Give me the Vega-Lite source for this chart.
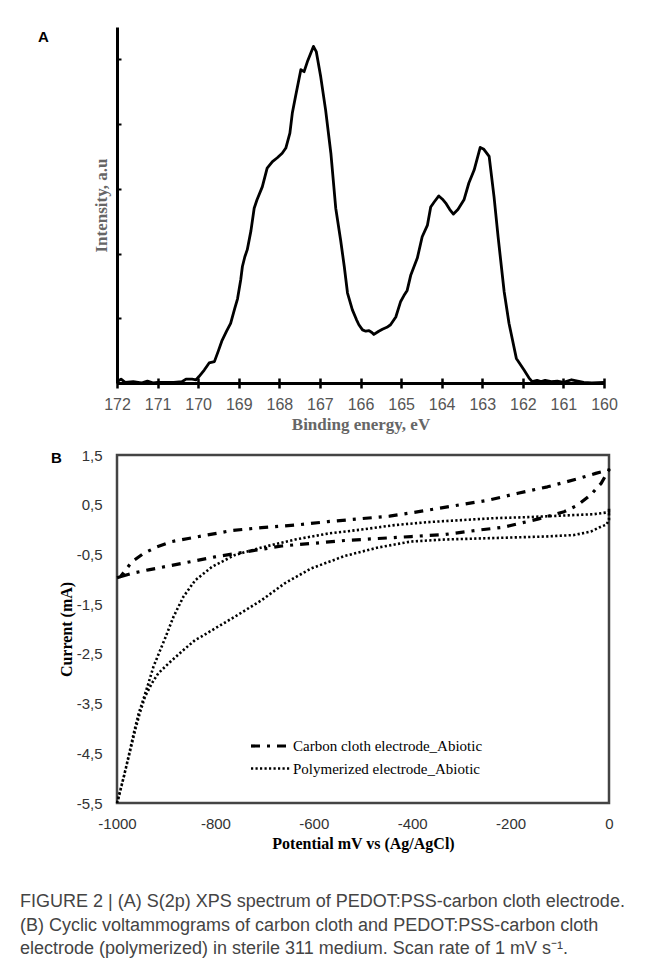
{
  "$schema": "https://vega.github.io/schema/vega-lite/v6.json",
  "background": "white",
  "padding": {"left": 20, "top": 27, "right": 0, "bottom": 5},
  "bounds": "flush",
  "spacing": 72,
  "title": {
    "text": [
      "FIGURE 2 | (A) S(2p) XPS spectrum of PEDOT:PSS-carbon cloth electrode.",
      "(B) Cyclic voltammograms of carbon cloth and PEDOT:PSS-carbon cloth",
      "electrode (polymerized) in sterile 311 medium. Scan rate of 1 mV s⁻¹."
    ],
    "orient": "bottom",
    "anchor": "start",
    "frame": "bounds",
    "dx": -18,
    "font": "Liberation Sans",
    "fontSize": 18,
    "fontWeight": "normal",
    "color": "#444444",
    "lineHeight": 23.5,
    "offset": 41
  },
  "datasets": {
    "xps": [
      {"e": 172.0, "v": 0.02}, {"e": 171.9, "v": 0.06}, {"e": 171.8, "v": 0.01}, {"e": 171.6, "v": 0.02},
      {"e": 171.4, "v": 0.0}, {"e": 171.25, "v": 0.03}, {"e": 171.1, "v": 0.0}, {"e": 171.0, "v": 0.01},
      {"e": 170.8, "v": 0.01}, {"e": 170.6, "v": 0.01}, {"e": 170.4, "v": 0.02}, {"e": 170.3, "v": 0.06},
      {"e": 170.15, "v": 0.06}, {"e": 170.05, "v": 0.05}, {"e": 169.98, "v": 0.1}, {"e": 169.85, "v": 0.2},
      {"e": 169.73, "v": 0.31}, {"e": 169.6, "v": 0.33}, {"e": 169.5, "v": 0.5}, {"e": 169.41, "v": 0.66},
      {"e": 169.3, "v": 0.8}, {"e": 169.2, "v": 0.92}, {"e": 169.1, "v": 1.15}, {"e": 169.03, "v": 1.3},
      {"e": 168.95, "v": 1.6}, {"e": 168.91, "v": 1.8}, {"e": 168.85, "v": 1.95}, {"e": 168.79, "v": 2.06},
      {"e": 168.7, "v": 2.35}, {"e": 168.62, "v": 2.7}, {"e": 168.55, "v": 2.83}, {"e": 168.42, "v": 3.03},
      {"e": 168.3, "v": 3.32}, {"e": 168.17, "v": 3.42}, {"e": 168.05, "v": 3.48}, {"e": 167.93, "v": 3.55},
      {"e": 167.84, "v": 3.63}, {"e": 167.74, "v": 3.86}, {"e": 167.68, "v": 4.17}, {"e": 167.6, "v": 4.43},
      {"e": 167.47, "v": 4.84}, {"e": 167.39, "v": 4.81}, {"e": 167.3, "v": 4.98}, {"e": 167.16, "v": 5.2},
      {"e": 167.09, "v": 5.12}, {"e": 166.98, "v": 4.73}, {"e": 166.86, "v": 4.22}, {"e": 166.73, "v": 3.55},
      {"e": 166.61, "v": 2.7}, {"e": 166.49, "v": 2.21}, {"e": 166.4, "v": 1.8}, {"e": 166.32, "v": 1.39},
      {"e": 166.2, "v": 1.13}, {"e": 166.1, "v": 0.98}, {"e": 166.04, "v": 0.9}, {"e": 165.95, "v": 0.82},
      {"e": 165.87, "v": 0.8}, {"e": 165.79, "v": 0.81}, {"e": 165.72, "v": 0.78}, {"e": 165.67, "v": 0.75},
      {"e": 165.55, "v": 0.8}, {"e": 165.46, "v": 0.83}, {"e": 165.35, "v": 0.86}, {"e": 165.26, "v": 0.9},
      {"e": 165.13, "v": 1.02}, {"e": 165.01, "v": 1.26}, {"e": 164.93, "v": 1.35}, {"e": 164.85, "v": 1.43},
      {"e": 164.76, "v": 1.67}, {"e": 164.6, "v": 1.93}, {"e": 164.48, "v": 2.26}, {"e": 164.35, "v": 2.44},
      {"e": 164.27, "v": 2.72}, {"e": 164.18, "v": 2.8}, {"e": 164.07, "v": 2.89}, {"e": 163.98, "v": 2.84},
      {"e": 163.9, "v": 2.78}, {"e": 163.8, "v": 2.68}, {"e": 163.71, "v": 2.61}, {"e": 163.6, "v": 2.68},
      {"e": 163.45, "v": 2.83}, {"e": 163.33, "v": 3.09}, {"e": 163.2, "v": 3.29}, {"e": 163.05, "v": 3.64},
      {"e": 162.96, "v": 3.61}, {"e": 162.83, "v": 3.5}, {"e": 162.71, "v": 2.88}, {"e": 162.61, "v": 2.26},
      {"e": 162.46, "v": 1.41}, {"e": 162.34, "v": 0.92}, {"e": 162.16, "v": 0.38}, {"e": 161.97, "v": 0.2},
      {"e": 161.85, "v": 0.08}, {"e": 161.77, "v": 0.02}, {"e": 161.65, "v": 0.04}, {"e": 161.55, "v": 0.02},
      {"e": 161.45, "v": 0.04}, {"e": 161.3, "v": 0.02}, {"e": 161.15, "v": 0.03}, {"e": 161.0, "v": 0.01},
      {"e": 160.8, "v": 0.05}, {"e": 160.65, "v": 0.03}, {"e": 160.5, "v": 0.01}, {"e": 160.3, "v": 0.0},
      {"e": 160.0, "v": 0.01}
    ],
    "cv": [
      {"s": "Carbon cloth electrode_Abiotic", "i": 1, "p": -1000, "c": -0.97},
      {"s": "Carbon cloth electrode_Abiotic", "i": 2, "p": -993, "c": -0.95},
      {"s": "Carbon cloth electrode_Abiotic", "i": 3, "p": -970, "c": -0.65},
      {"s": "Carbon cloth electrode_Abiotic", "i": 4, "p": -946, "c": -0.48},
      {"s": "Carbon cloth electrode_Abiotic", "i": 5, "p": -919, "c": -0.35},
      {"s": "Carbon cloth electrode_Abiotic", "i": 6, "p": -888, "c": -0.24},
      {"s": "Carbon cloth electrode_Abiotic", "i": 7, "p": -855, "c": -0.18},
      {"s": "Carbon cloth electrode_Abiotic", "i": 8, "p": -828, "c": -0.13},
      {"s": "Carbon cloth electrode_Abiotic", "i": 9, "p": -767, "c": -0.02},
      {"s": "Carbon cloth electrode_Abiotic", "i": 10, "p": -706, "c": 0.04},
      {"s": "Carbon cloth electrode_Abiotic", "i": 11, "p": -638, "c": 0.09},
      {"s": "Carbon cloth electrode_Abiotic", "i": 12, "p": -571, "c": 0.16},
      {"s": "Carbon cloth electrode_Abiotic", "i": 13, "p": -503, "c": 0.22},
      {"s": "Carbon cloth electrode_Abiotic", "i": 14, "p": -446, "c": 0.27},
      {"s": "Carbon cloth electrode_Abiotic", "i": 15, "p": -381, "c": 0.37},
      {"s": "Carbon cloth electrode_Abiotic", "i": 16, "p": -314, "c": 0.48},
      {"s": "Carbon cloth electrode_Abiotic", "i": 17, "p": -246, "c": 0.59},
      {"s": "Carbon cloth electrode_Abiotic", "i": 18, "p": -185, "c": 0.73},
      {"s": "Carbon cloth electrode_Abiotic", "i": 19, "p": -125, "c": 0.86},
      {"s": "Carbon cloth electrode_Abiotic", "i": 20, "p": -64, "c": 1.02},
      {"s": "Carbon cloth electrode_Abiotic", "i": 21, "p": -27, "c": 1.13},
      {"s": "Carbon cloth electrode_Abiotic", "i": 22, "p": 0, "c": 1.2},
      {"s": "Carbon cloth electrode_Abiotic", "i": 23, "p": -16, "c": 0.93},
      {"s": "Carbon cloth electrode_Abiotic", "i": 24, "p": -37, "c": 0.7},
      {"s": "Carbon cloth electrode_Abiotic", "i": 25, "p": -64, "c": 0.49},
      {"s": "Carbon cloth electrode_Abiotic", "i": 26, "p": -91, "c": 0.36},
      {"s": "Carbon cloth electrode_Abiotic", "i": 27, "p": -145, "c": 0.21},
      {"s": "Carbon cloth electrode_Abiotic", "i": 28, "p": -213, "c": 0.05},
      {"s": "Carbon cloth electrode_Abiotic", "i": 29, "p": -273, "c": -0.02},
      {"s": "Carbon cloth electrode_Abiotic", "i": 30, "p": -334, "c": -0.1},
      {"s": "Carbon cloth electrode_Abiotic", "i": 31, "p": -402, "c": -0.14},
      {"s": "Carbon cloth electrode_Abiotic", "i": 32, "p": -469, "c": -0.18},
      {"s": "Carbon cloth electrode_Abiotic", "i": 33, "p": -537, "c": -0.22},
      {"s": "Carbon cloth electrode_Abiotic", "i": 34, "p": -605, "c": -0.28},
      {"s": "Carbon cloth electrode_Abiotic", "i": 35, "p": -665, "c": -0.33},
      {"s": "Carbon cloth electrode_Abiotic", "i": 36, "p": -740, "c": -0.45},
      {"s": "Carbon cloth electrode_Abiotic", "i": 37, "p": -801, "c": -0.55},
      {"s": "Carbon cloth electrode_Abiotic", "i": 38, "p": -868, "c": -0.68},
      {"s": "Carbon cloth electrode_Abiotic", "i": 39, "p": -936, "c": -0.81},
      {"s": "Carbon cloth electrode_Abiotic", "i": 40, "p": -970, "c": -0.88},
      {"s": "Carbon cloth electrode_Abiotic", "i": 41, "p": -1000, "c": -0.97},
      {"s": "Polymerized electrode_Abiotic", "i": 1, "p": -1000, "c": -5.5},
      {"s": "Polymerized electrode_Abiotic", "i": 2, "p": -997, "c": -5.38},
      {"s": "Polymerized electrode_Abiotic", "i": 3, "p": -986, "c": -4.97},
      {"s": "Polymerized electrode_Abiotic", "i": 4, "p": -976, "c": -4.54},
      {"s": "Polymerized electrode_Abiotic", "i": 5, "p": -966, "c": -4.1},
      {"s": "Polymerized electrode_Abiotic", "i": 6, "p": -956, "c": -3.7},
      {"s": "Polymerized electrode_Abiotic", "i": 7, "p": -946, "c": -3.4},
      {"s": "Polymerized electrode_Abiotic", "i": 8, "p": -936, "c": -3.09},
      {"s": "Polymerized electrode_Abiotic", "i": 9, "p": -926, "c": -2.76},
      {"s": "Polymerized electrode_Abiotic", "i": 10, "p": -912, "c": -2.42},
      {"s": "Polymerized electrode_Abiotic", "i": 11, "p": -902, "c": -2.18},
      {"s": "Polymerized electrode_Abiotic", "i": 12, "p": -885, "c": -1.75},
      {"s": "Polymerized electrode_Abiotic", "i": 13, "p": -865, "c": -1.35},
      {"s": "Polymerized electrode_Abiotic", "i": 14, "p": -841, "c": -1.02},
      {"s": "Polymerized electrode_Abiotic", "i": 15, "p": -807, "c": -0.75},
      {"s": "Polymerized electrode_Abiotic", "i": 16, "p": -760, "c": -0.51},
      {"s": "Polymerized electrode_Abiotic", "i": 17, "p": -706, "c": -0.36},
      {"s": "Polymerized electrode_Abiotic", "i": 18, "p": -638, "c": -0.2},
      {"s": "Polymerized electrode_Abiotic", "i": 19, "p": -571, "c": -0.08},
      {"s": "Polymerized electrode_Abiotic", "i": 20, "p": -503, "c": 0.0},
      {"s": "Polymerized electrode_Abiotic", "i": 21, "p": -436, "c": 0.09},
      {"s": "Polymerized electrode_Abiotic", "i": 22, "p": -368, "c": 0.15},
      {"s": "Polymerized electrode_Abiotic", "i": 23, "p": -300, "c": 0.19},
      {"s": "Polymerized electrode_Abiotic", "i": 24, "p": -233, "c": 0.23},
      {"s": "Polymerized electrode_Abiotic", "i": 25, "p": -165, "c": 0.25},
      {"s": "Polymerized electrode_Abiotic", "i": 26, "p": -98, "c": 0.28},
      {"s": "Polymerized electrode_Abiotic", "i": 27, "p": -30, "c": 0.31},
      {"s": "Polymerized electrode_Abiotic", "i": 28, "p": 0, "c": 0.35},
      {"s": "Polymerized electrode_Abiotic", "i": 29, "p": 0, "c": 0.42},
      {"s": "Polymerized electrode_Abiotic", "i": 30, "p": 0, "c": 0.2},
      {"s": "Polymerized electrode_Abiotic", "i": 31, "p": -5, "c": 0.1},
      {"s": "Polymerized electrode_Abiotic", "i": 32, "p": -16, "c": 0.06},
      {"s": "Polymerized electrode_Abiotic", "i": 33, "p": -37, "c": -0.04},
      {"s": "Polymerized electrode_Abiotic", "i": 34, "p": -71, "c": -0.11},
      {"s": "Polymerized electrode_Abiotic", "i": 35, "p": -131, "c": -0.14},
      {"s": "Polymerized electrode_Abiotic", "i": 36, "p": -199, "c": -0.16},
      {"s": "Polymerized electrode_Abiotic", "i": 37, "p": -267, "c": -0.18},
      {"s": "Polymerized electrode_Abiotic", "i": 38, "p": -334, "c": -0.2},
      {"s": "Polymerized electrode_Abiotic", "i": 39, "p": -402, "c": -0.24},
      {"s": "Polymerized electrode_Abiotic", "i": 40, "p": -469, "c": -0.36},
      {"s": "Polymerized electrode_Abiotic", "i": 41, "p": -537, "c": -0.53},
      {"s": "Polymerized electrode_Abiotic", "i": 42, "p": -605, "c": -0.78},
      {"s": "Polymerized electrode_Abiotic", "i": 43, "p": -659, "c": -1.08},
      {"s": "Polymerized electrode_Abiotic", "i": 44, "p": -706, "c": -1.42},
      {"s": "Polymerized electrode_Abiotic", "i": 45, "p": -760, "c": -1.75},
      {"s": "Polymerized electrode_Abiotic", "i": 46, "p": -801, "c": -1.99},
      {"s": "Polymerized electrode_Abiotic", "i": 47, "p": -828, "c": -2.15},
      {"s": "Polymerized electrode_Abiotic", "i": 48, "p": -841, "c": -2.22},
      {"s": "Polymerized electrode_Abiotic", "i": 49, "p": -868, "c": -2.45},
      {"s": "Polymerized electrode_Abiotic", "i": 50, "p": -895, "c": -2.69},
      {"s": "Polymerized electrode_Abiotic", "i": 51, "p": -916, "c": -2.89},
      {"s": "Polymerized electrode_Abiotic", "i": 52, "p": -929, "c": -3.09},
      {"s": "Polymerized electrode_Abiotic", "i": 53, "p": -943, "c": -3.36},
      {"s": "Polymerized electrode_Abiotic", "i": 54, "p": -953, "c": -3.67},
      {"s": "Polymerized electrode_Abiotic", "i": 55, "p": -963, "c": -4.03},
      {"s": "Polymerized electrode_Abiotic", "i": 56, "p": -973, "c": -4.44},
      {"s": "Polymerized electrode_Abiotic", "i": 57, "p": -983, "c": -4.84},
      {"s": "Polymerized electrode_Abiotic", "i": 58, "p": -993, "c": -5.24},
      {"s": "Polymerized electrode_Abiotic", "i": 59, "p": -998, "c": -5.45}
    ]
  },
  "vconcat": [
    {
      "width": 487,
      "height": 356,
      "view": {"stroke": null},
      "title": {
        "text": "A",
        "anchor": "start",
        "frame": "group",
        "dx": -79,
        "dy": 22,
        "font": "Liberation Sans",
        "fontSize": 15,
        "fontWeight": "bold",
        "color": "#000000"
      },
      "data": {"name": "xps"},
      "layer": [
        {
          "mark": {"type": "line", "color": "#000000", "strokeWidth": 2.8, "strokeJoin": "round"},
          "encoding": {
            "x": {
              "field": "e",
              "type": "quantitative",
              "scale": {"domain": [172, 160], "nice": false, "zero": false},
              "axis": {
                "values": [172, 171, 170, 169, 168, 167, 166, 165, 164, 163, 162, 161, 160],
                "format": "d",
                "grid": false,
                "ticks": false,
                "domainColor": "#000000",
                "domainWidth": 3,
                "labelFont": "Liberation Sans",
                "labelFontSize": 16,
                "labelColor": "#555555",
                "labelPadding": 13,
                "labelFlush": false,
                "title": "Binding energy, eV",
                "titleFont": "Liberation Serif",
                "titleFontSize": 17,
                "titleFontWeight": "bold",
                "titleColor": "#666666",
                "titlePadding": 4
              }
            },
            "y": {
              "field": "v",
              "type": "quantitative",
              "scale": {"domain": [0, 5.5], "nice": false},
              "axis": {
                "values": [1, 2, 3, 4, 5],
                "grid": false,
                "labels": false,
                "ticks": true,
                "tickSize": -4,
                "tickColor": "#000000",
                "tickWidth": 2,
                "domainColor": "#000000",
                "domainWidth": 3,
                "title": "Intensity, a.u",
                "titleFont": "Liberation Serif",
                "titleFontSize": 17,
                "titleFontWeight": "bold",
                "titleColor": "#666666",
                "titlePadding": 6
              }
            }
          }
        },
        {
          "mark": {"type": "line", "strokeOpacity": 0},
          "encoding": {
            "x": {
              "field": "e",
              "type": "quantitative",
              "axis": {
                "orient": "bottom",
                "values": [172, 171, 170, 169, 168, 167, 166, 165, 164, 163, 162, 161, 160],
                "offset": -5,
                "tickSize": 10,
                "tickWidth": 2.5,
                "tickColor": "#000000",
                "labels": false,
                "domain": false,
                "grid": false,
                "title": null
              }
            },
            "y": {"field": "v", "type": "quantitative"}
          }
        }
      ],
      "resolve": {"axis": {"x": "independent"}}
    },
    {
      "width": 492,
      "height": 348,
      "view": {"stroke": "#444444", "strokeWidth": 2.5},
      "title": {
        "text": "B",
        "anchor": "start",
        "frame": "group",
        "dx": -66,
        "dy": 22,
        "font": "Liberation Sans",
        "fontSize": 15,
        "fontWeight": "bold",
        "color": "#000000"
      },
      "data": {"name": "cv"},
      "mark": {"type": "line", "color": "#000000", "strokeJoin": "round"},
      "encoding": {
        "x": {
          "field": "p",
          "type": "quantitative",
          "scale": {"domain": [-1000, 0], "nice": false},
          "axis": {
            "values": [-1000, -800, -600, -400, -200, 0],
            "labelExpr": "datum.value == 0 ? '0' : '-' + format(abs(datum.value), 'd')",
            "grid": false,
            "ticks": false,
            "domain": false,
            "labelFont": "Liberation Sans",
            "labelFontSize": 15,
            "labelColor": "#333333",
            "labelPadding": 13,
            "labelFlush": false,
            "title": "Potential mV vs (Ag/AgCl)",
            "titleFont": "Liberation Serif",
            "titleFontSize": 16,
            "titleFontWeight": "bold",
            "titleColor": "#000000",
            "titlePadding": 4
          }
        },
        "y": {
          "field": "c",
          "type": "quantitative",
          "scale": {"domain": [-5.5, 1.5], "nice": false, "zero": false},
          "axis": {
            "values": [1.5, 0.5, -0.5, -1.5, -2.5, -3.5, -4.5, -5.5],
            "labelExpr": "(datum.value < 0 ? '-' : '') + replace(format(abs(datum.value), '.1f'), '.', ',')",
            "grid": false,
            "ticks": false,
            "domain": false,
            "labelFont": "Liberation Sans",
            "labelFontSize": 15,
            "labelColor": "#333333",
            "labelPadding": 15,
            "labelFlush": false,
            "title": "Current (mA)",
            "titleFont": "Liberation Serif",
            "titleFontSize": 16,
            "titleFontWeight": "bold",
            "titleColor": "#000000",
            "titlePadding": 2
          }
        },
        "order": {"field": "i", "type": "quantitative"},
        "strokeDash": {
          "field": "s",
          "type": "nominal",
          "scale": {
            "domain": ["Carbon cloth electrode_Abiotic", "Polymerized electrode_Abiotic"],
            "range": [[9, 7, 3, 7], [2.2, 2.3]]
          },
          "legend": {
            "orient": "none",
            "legendX": 142,
            "legendY": 707,
            "title": null,
            "symbolType": "M-2,0H2",
            "symbolSize": 400,
            "symbolStrokeWidth": 3,
            "symbolStrokeColor": "#000000",
            "symbolFillColor": "transparent",
            "labelFont": "Liberation Serif",
            "labelFontSize": 15,
            "labelColor": "#000000",
            "labelOffset": 10,
            "rowPadding": 3,
            "labelLimit": 400
          }
        },
        "strokeWidth": {
          "field": "s",
          "type": "nominal",
          "scale": {
            "domain": ["Carbon cloth electrode_Abiotic", "Polymerized electrode_Abiotic"],
            "range": [3.2, 2.6]
          },
          "legend": null
        }
      }
    }
  ]
}
